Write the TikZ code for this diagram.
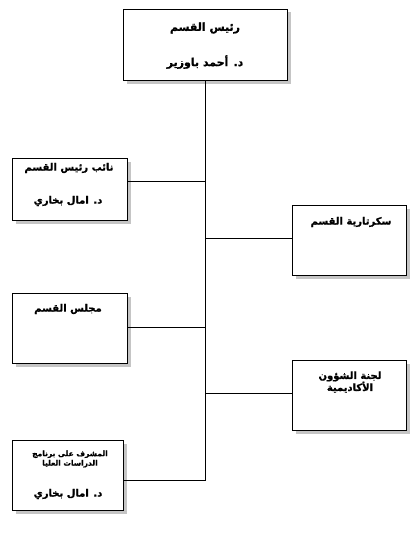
\documentclass[tikz,border=0pt]{standalone}
\usepackage{fontspec}
\newfontfamily\arabicfont[Script=Arabic, BoldFont={DejaVu Sans Bold}, BoldFeatures={FakeBold=1.2}]{DejaVu Sans}
\TeXXeTstate=1
\usetikzlibrary{shadows}
\tikzset{
  unit/.style={draw, line width=1pt, fill=white, anchor=north west, inner sep=0pt,
    drop shadow={shadow xshift=3pt, shadow yshift=-3pt, fill=black!45}},
  artext/.style={font=\arabicfont\bfseries\fontsize{10}{12}\selectfont, inner sep=0pt, align=center},
  bigtext/.style={font=\arabicfont\bfseries\fontsize{11}{13}\selectfont, inner sep=0pt, align=center},
  smalltext/.style={font=\arabicfont\bfseries\fontsize{7.5}{9.5}\selectfont, inner sep=0pt, align=center},
  link/.style={line width=1pt}
}
\begin{document}
\begin{tikzpicture}[x=1pt, y=-1pt]
  \useasboundingbox (0,0) rectangle (419,535);
  % Head of department
  \node[unit, minimum width=164pt, minimum height=71pt] (head) at (123,9) {};
  \node[bigtext] (headT) at (205,28) {\beginR رئيس القسم\endR};
  \node[bigtext] (headN) at (205,62) {\beginR د. أحمد باوزير\endR};
  % Left column
  \node[unit, minimum width=115pt, minimum height=62pt] (deputy) at (12,158) {};
  \node[artext] (deputyT) at (69,168) {\beginR نائب رئيس القسم\endR};
  \node[artext] (deputyN) at (68,201) {\beginR د. امال بخاري\endR};
  \node[unit, minimum width=115pt, minimum height=70pt] (council) at (12,293) {};
  \node[artext] (councilT) at (68,309) {\beginR مجلس القسم\endR};
  \node[unit, minimum width=111pt, minimum height=70pt] (grad) at (12,440) {};
  \node[smalltext] (gradT) at (70,459) {\beginR المشرف على برنامج\endR\\\beginR الدراسات العليا\endR};
  \node[artext] (gradN) at (68,494) {\beginR د. امال بخاري\endR};
  % Right column
  \node[unit, minimum width=114pt, minimum height=70pt] (secretary) at (292,205) {};
  \node[artext] (secretaryT) at (351,222) {\beginR سكرتارية القسم\endR};
  \node[unit, minimum width=114pt, minimum height=70pt] (academic) at (292,360) {};
  \node[artext] (academicT) at (350,382) {\beginR لجنة الشؤون\endR\\\beginR الأكاديمية\endR};
  % Connections
  \coordinate (jDeputy) at (head.south |- 0,181);
  \coordinate (jSecretary) at (head.south |- 0,238);
  \coordinate (jCouncil) at (head.south |- 0,327);
  \coordinate (jAcademic) at (head.south |- 0,393);
  \coordinate (jGrad) at (head.south |- 0,480);
  \draw[link] (head.south) -- (jGrad);
  \draw[link] (jDeputy) -- (jDeputy -| deputy.east);
  \draw[link] (jSecretary) -- (jSecretary -| secretary.west);
  \draw[link] (jCouncil) -- (jCouncil -| council.east);
  \draw[link] (jAcademic) -- (jAcademic -| academic.west);
  \draw[link] (jGrad) -- (jGrad -| grad.east);
\end{tikzpicture}
\end{document}
